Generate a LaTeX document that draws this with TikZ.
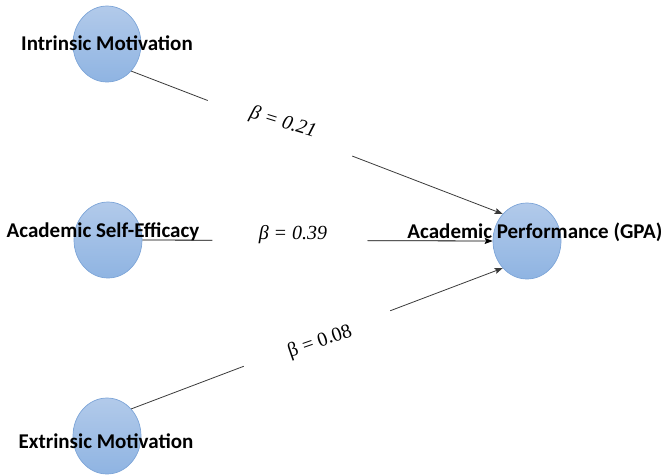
\documentclass[tikz,border=0pt]{standalone}
\usepackage{fontspec}
\setmainfont{Carlito}
\newfontfamily\coeffont{Liberation Serif}
\usetikzlibrary{arrows.meta,calc,shapes.geometric}

\definecolor{latenttop}{HTML}{B2CAEA}
\definecolor{latentbot}{HTML}{8FB4E2}
\definecolor{latentrim}{HTML}{7DA5D8}
\definecolor{linkgray}{HTML}{3A3A3A}

\begin{document}
\begin{tikzpicture}[x=1pt,y=-1pt,
    latent/.style={ellipse, minimum width=68pt, minimum height=76pt, inner sep=0pt,
                   draw=latentrim, line width=0.7pt, top color=latenttop, bottom color=latentbot},
    lbl/.style={font=\bfseries\fontsize{21}{24}\selectfont, inner sep=0pt},
    coef/.style={font=\coeffont\fontsize{20}{24}\selectfont, inner sep=0pt},
    link/.style={draw=linkgray, line width=0.8pt},
    arr/.style={-{Stealth[length=8pt,width=6pt,inset=1.5pt]}}
  ]

    \useasboundingbox (0,0) rectangle (665,475);

    % Variables latentes
    \node[latent] (intr)    at (107,44)  {};
    \node[latent] (selfeff) at (108,240) {};
    \node[latent] (perf)    at (527,241) {};
    \node[latent] (extr)    at (107,436) {};

    % Noms des variables
    \node[lbl] (intrlbl)    at (107,43)  {Intrinsic Motivation};
    \node[lbl] (selfefflbl) at (103,232) {Academic Self-Efficacy};
    \node[lbl] (perflbl)    at (535,232) {Academic Performance (GPA)};
    \node[lbl] (extrlbl)    at (106,441) {Extrinsic Motivation};

    % Coefficients
    \node[coef, rotate=-17] (b21) at (283,123) {\itshape β = 0.21};
    \node[coef]             (b39) at (293,235) {\itshape β = 0.39};
    \node[coef, rotate=19]  (b08) at (320,342) {β = 0.08};

    % ---- Liens ----
    \coordinate (g21a) at ($(intr.south east)!0.206!(perf.north west)$);
    \coordinate (g21b) at ($(intr.south east)!0.595!(perf.north west)$);
    \coordinate (g39a) at ($(selfeff.east)!0.2!(perf.west)$);
    \coordinate (g39b) at ($(selfeff.east)!0.643!(perf.west)$);
    \coordinate (g08a) at ($(extr.north east)!0.303!(perf.south west)$);
    \coordinate (g08b) at ($(extr.north east)!0.697!(perf.south west)$);

    \draw[link] (intr.south east) -- (g21a);
    \draw[link,arr] (g21b) -- (perf.north west);
    \draw[link,draw=black] (selfeff.east) -- (g39a);
    \draw[link,draw=black,arr] (g39b) -- (perf.west);
    \draw[link] (extr.north east) -- (g08a);
    \draw[link,arr] (g08b) -- (perf.south west);

\end{tikzpicture}
\end{document}
